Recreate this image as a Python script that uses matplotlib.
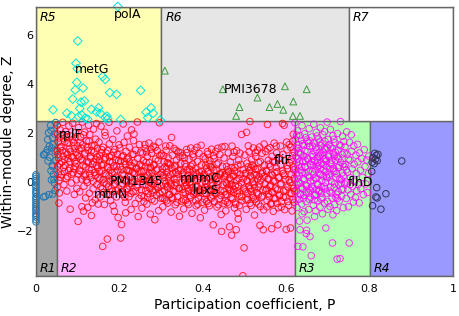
import matplotlib
matplotlib.use("Agg")
import matplotlib.pyplot as plt
from matplotlib.patches import Rectangle
import numpy as np

# ---------------- data ----------------
# R1 (blue): ultra-peripheral nodes
blue_col_z = [0.29, 0.22, 0.13, 0.05, -0.04, -0.16, -0.23, -0.34, -0.42, -0.49, -0.61, -0.68,
              -0.77, -0.86, -0.95, -1.03, -1.12, -1.18, -1.29, -1.36, -1.44, -1.55, -1.64]
blue_pts = [(0.027, 1.31), (0.018, 1.10), (0.035, 2.30), (0.036, 2.10), (0.040, 1.80), (0.041, 1.52),
            (0.038, 1.38), (0.033, 1.00), (0.040, 0.62), (0.037, 0.08), (0.043, 0.10), (0.022, -0.60),
            (0.040, -0.50), (0.018, -0.62), (0.024, 1.18), (0.020, 1.12), (0.036, 0.45), (0.039, 0.68),
            (0.045, 1.95), (0.028, 1.72), (0.047, 2.42), (0.030, 2.00), (0.042, 0.30), (0.046, 1.25),
            (0.044, -0.05), (0.032, 1.45), (0.029, 0.85), (0.048, 0.88), (0.046, -0.36), (0.031, -0.52)]

# R2 (red): peripheral nodes, by strip of P
red_a = [(0.051,2.31),(0.052,1.95),(0.053,1.62),(0.051,1.28),(0.054,0.97),(0.052,0.64),(0.053,0.32),(0.055,0.05),(0.051,-0.22),(0.056,-0.46),(0.055,-0.87),(0.058,2.12),(0.060,1.44),(0.062,0.81),(0.059,0.18),(0.064,2.43),(0.066,1.76),(0.065,1.05),(0.068,0.42),(0.067,-0.12),(0.071,2.05),(0.072,1.21),(0.070,0.66),(0.074,-0.38),(0.075,1.58),(0.077,0.94),(0.076,0.21),(0.079,2.28),(0.080,1.33),(0.082,-1.12),(0.081,0.55),(0.084,1.87),(0.085,-0.05),(0.086,1.02),(0.088,2.39),(0.089,0.37),(0.090,1.61),(0.092,-0.52),(0.093,0.82),(0.095,2.01),(0.096,1.19),(0.097,0.08),(0.099,1.47),(0.098,-0.27),(0.094,0.63)]
red_b = [(0.101,-1.62),(0.102,2.21),(0.103,1.34),(0.104,0.47),(0.105,-0.41),(0.107,1.82),(0.108,0.92),(0.109,0.11),(0.110,-1.02),(0.111,2.44),(0.112,1.51),(0.113,0.68),(0.115,-0.18),(0.116,1.13),(0.117,2.03),(0.118,0.29),(0.119,-0.66),(0.121,1.67),(0.122,0.83),(0.123,-0.03),(0.125,1.28),(0.126,2.31),(0.127,0.51),(0.128,-0.47),(0.129,1.93),(0.131,1.05),(0.132,0.17),(0.133,-1.38),(0.134,1.47),(0.136,0.72),(0.137,-0.29),(0.138,2.15),(0.139,1.21),(0.141,0.38),(0.142,-0.74),(0.143,1.74),(0.144,0.91),(0.146,-0.12),(0.147,1.36),(0.148,0.56),(0.149,-0.91),(0.145,2.38),(0.135,-0.86),(0.114,-1.20),(0.124,-1.05)]
red_c = [(0.151,1.62),(0.152,0.88),(0.153,0.12),(0.154,-0.62),(0.156,2.27),(0.157,1.19),(0.158,0.45),(0.159,-0.28),(0.160,-2.64),(0.161,1.41),(0.162,0.71),(0.163,-0.05),(0.164,-0.93),(0.166,1.88),(0.167,0.98),(0.168,0.27),(0.169,-0.51),(0.171,-2.34),(0.172,1.27),(0.173,0.56),(0.174,-0.18),(0.175,2.43),(0.176,1.55),(0.177,0.83),(0.178,0.02),(0.179,-0.77),(0.181,1.06),(0.182,0.37),(0.183,-0.39),(0.184,1.73),(0.186,0.64),(0.187,-0.11),(0.188,-1.21),(0.189,1.32),(0.191,0.91),(0.192,0.19),(0.193,-0.62),(0.194,2.08),(0.195,1.12),(0.196,0.48),(0.197,-1.46),(0.198,-0.29),(0.199,1.51),(0.185,-0.98),(0.165,2.02)]
red_d = [(0.201,1.38),(0.202,0.62),(0.203,-2.30),(0.204,-0.15),(0.205,-1.75),(0.206,1.02),(0.207,0.31),(0.208,-0.52),(0.209,2.36),(0.211,1.61),(0.212,0.83),(0.213,0.08),(0.214,-0.84),(0.216,1.24),(0.217,0.49),(0.218,-0.27),(0.219,1.87),(0.221,0.97),(0.222,0.22),(0.223,-0.61),(0.224,1.41),(0.226,0.66),(0.227,-0.06),(0.228,-1.13),(0.229,2.12),(0.231,1.12),(0.232,0.38),(0.233,-0.41),(0.234,1.68),(0.236,0.77),(0.237,0.01),(0.238,-0.89),(0.239,1.29),(0.241,0.53),(0.242,-0.22),(0.243,2.44),(0.244,0.94),(0.246,0.14),(0.247,-0.68),(0.248,1.52),(0.249,0.71),(0.245,-1.42),(0.235,1.95),(0.215,-1.27),(0.225,0.45)]
red_e = [(0.251,1.21),(0.252,0.44),(0.253,-0.33),(0.254,-1.08),(0.256,1.17),(0.257,0.86),(0.258,0.09),(0.259,-0.62),(0.261,1.52),(0.262,1.36),(0.263,0.61),(0.264,-0.14),(0.266,-0.91),(0.267,1.04),(0.268,0.27),(0.269,-0.47),(0.271,1.58),(0.272,0.78),(0.273,-0.02),(0.274,-1.32),(0.276,1.33),(0.277,1.16),(0.278,0.39),(0.279,-0.36),(0.281,1.45),(0.282,0.67),(0.283,-0.09),(0.284,-0.79),(0.286,1.41),(0.287,0.93),(0.288,0.17),(0.289,-0.55),(0.291,1.27),(0.292,0.52),(0.293,-0.24),(0.294,-1.18),(0.296,2.41),(0.297,1.07),(0.298,0.31),(0.299,-0.67),(0.295,1.62),(0.285,-1.55),(0.265,1.22),(0.275,0.58),(0.255,0.12)]
red_f = [(0.301,1.14),(0.302,0.37),(0.303,-0.41),(0.304,-1.02),(0.306,1.06),(0.307,0.82),(0.308,0.04),(0.309,-0.72),(0.311,1.46),(0.312,1.28),(0.313,0.55),(0.314,-0.18),(0.316,-0.87),(0.317,0.97),(0.318,0.21),(0.319,-0.53),(0.321,1.47),(0.322,0.69),(0.323,-0.07),(0.324,-1.24),(0.325,1.81),(0.327,1.08),(0.328,0.33),(0.329,-0.38),(0.331,1.36),(0.332,0.61),(0.333,-0.16),(0.334,-0.94),(0.336,1.28),(0.337,0.89),(0.338,0.12),(0.339,-0.61),(0.341,1.22),(0.342,0.46),(0.343,-0.28),(0.344,-1.41),(0.346,1.19),(0.347,0.75),(0.348,-0.01),(0.349,-0.79),(0.345,1.02),(0.335,0.38),(0.315,0.78),(0.326,-0.63),(0.305,0.25)]
red_g = [(0.351,1.07),(0.352,0.31),(0.353,-0.44),(0.354,-1.11),(0.356,0.97),(0.357,0.74),(0.358,-0.02),(0.359,-0.76),(0.361,1.32),(0.362,1.19),(0.363,0.47),(0.364,-0.26),(0.366,-0.93),(0.367,0.92),(0.368,0.15),(0.369,-0.57),(0.371,1.38),(0.372,0.63),(0.373,-0.12),(0.374,-1.29),(0.376,1.12),(0.377,1.01),(0.378,0.26),(0.379,-0.42),(0.381,1.29),(0.382,0.54),(0.383,-0.21),(0.384,-0.98),(0.386,1.41),(0.387,0.83),(0.388,0.07),(0.389,-0.66),(0.391,1.16),(0.392,0.39),(0.393,-0.33),(0.394,-1.47),(0.396,1.49),(0.397,0.69),(0.398,-0.06),(0.399,-0.84),(0.395,0.21),(0.385,-0.48),(0.375,0.44),(0.365,0.08),(0.355,-0.18)]
red_h = [(0.401,1.02),(0.402,0.26),(0.403,-0.49),(0.404,-1.16),(0.406,0.94),(0.407,0.68),(0.408,-0.07),(0.409,-0.81),(0.411,1.23),(0.412,1.13),(0.413,0.41),(0.414,-0.31),(0.416,-0.98),(0.417,0.86),(0.418,0.11),(0.419,-0.62),(0.421,1.33),(0.422,0.57),(0.423,-0.17),(0.425,-1.76),(0.426,1.06),(0.427,0.95),(0.428,0.21),(0.429,-0.47),(0.431,1.24),(0.432,0.48),(0.433,-0.26),(0.434,-1.03),(0.436,1.37),(0.437,0.77),(0.438,0.02),(0.439,-0.71),(0.441,1.11),(0.442,0.34),(0.443,-0.38),(0.444,-1.34),(0.446,1.42),(0.447,0.63),(0.448,-0.11),(0.449,-0.89),(0.445,-2.03),(0.435,0.16),(0.424,-0.55),(0.415,0.72),(0.405,-0.22)]
red_i = [(0.451,0.97),(0.452,0.21),(0.453,1.44),(0.454,-0.53),(0.455,-1.19),(0.457,0.63),(0.458,-0.09),(0.459,-0.84),(0.461,1.18),(0.462,0.42),(0.463,-0.31),(0.464,-1.84),(0.466,0.81),(0.467,0.07),(0.468,-0.64),(0.469,-2.18),(0.470,1.46),(0.472,1.03),(0.473,0.28),(0.474,-0.44),(0.476,-1.07),(0.477,0.58),(0.478,-0.16),(0.479,-0.92),(0.480,-1.96),(0.481,1.27),(0.482,0.36),(0.483,-0.37),(0.484,-1.28),(0.486,0.88),(0.487,0.13),(0.488,-0.59),(0.489,1.17),(0.491,0.71),(0.492,-0.04),(0.493,1.93),(0.494,-0.78),(0.496,-3.84),(0.497,0.49),(0.498,-0.26),(0.499,-2.70),(0.485,-1.52),(0.475,1.21),(0.465,-0.12),(0.456,0.32)]
red_j = [(0.501,1.09),(0.502,0.33),(0.503,-0.41),(0.504,-1.13),(0.505,2.02),(0.506,0.76),(0.507,0.01),(0.508,-0.72),(0.509,1.47),(0.511,1.22),(0.512,0.45),(0.513,2.46),(0.514,-0.28),(0.516,-0.97),(0.517,0.91),(0.518,0.16),(0.519,-0.56),(0.521,1.38),(0.522,0.61),(0.523,-0.13),(0.524,-1.36),(0.526,1.19),(0.527,1.03),(0.528,0.27),(0.529,-0.44),(0.531,1.29),(0.532,0.52),(0.533,-0.22),(0.534,-0.91),(0.536,1.42),(0.537,-1.78),(0.538,0.83),(0.539,0.06),(0.541,-0.63),(0.542,1.16),(0.543,0.39),(0.544,-0.34),(0.546,-1.15),(0.547,1.54),(0.548,0.68),(0.549,-0.08),(0.545,-1.96),(0.535,0.22),(0.525,-0.71),(0.515,0.58)]
red_k = [(0.551,1.24),(0.552,0.47),(0.553,-0.29),(0.554,-1.02),(0.555,2.34),(0.556,1.34),(0.557,0.88),(0.558,0.12),(0.559,-0.61),(0.561,1.39),(0.562,0.63),(0.563,-0.14),(0.564,-0.88),(0.565,-1.92),(0.566,1.04),(0.567,0.27),(0.568,-0.45),(0.569,-1.21),(0.571,1.58),(0.572,0.79),(0.573,0.03),(0.574,-0.69),(0.576,1.46),(0.577,1.18),(0.578,0.41),(0.579,-0.33),(0.580,-1.76),(0.581,-1.06),(0.582,0.95),(0.583,0.18),(0.584,-0.52),(0.586,1.46),(0.587,0.69),(0.588,-0.07),(0.589,-0.81),(0.591,2.38),(0.592,1.12),(0.593,0.34),(0.594,-0.38),(0.595,2.31),(0.596,-1.14),(0.597,0.86),(0.598,0.09),(0.599,-0.63),(0.600,-1.95),(0.601,1.62),(0.602,1.31),(0.603,0.54),(0.604,-0.21),(0.606,-0.96),(0.607,1.52),(0.608,0.77),(0.609,-0.02),(0.610,-1.89),(0.611,1.41),(0.612,0.29),(0.613,-0.48),(0.614,-1.19),(0.615,1.07),(0.616,1.66),(0.617,0.61),(0.618,-0.27),(0.619,-0.84),(0.617,1.94),(0.619,0.14)]
# dense core of the R2 cloud
red_core_1 = [(0.053,1.12),(0.055,1.79),(0.057,0.73),(0.058,1.38),(0.061,0.29),(0.063,1.91),(0.063,1.27),(0.066,0.58),(0.069,1.63),(0.069,0.91),(0.072,0.14),(0.073,1.84),(0.075,1.11),(0.078,0.46),(0.079,1.59),(0.081,0.82),(0.083,1.24),(0.085,0.31),(0.087,1.71),(0.089,0.98),(0.091,0.53),(0.092,1.36),(0.094,1.82),(0.096,0.74),(0.099,1.08),
              (0.102,0.31),(0.104,1.03),(0.106,1.61),(0.108,0.42),(0.109,1.37),(0.112,0.86),(0.114,1.92),(0.115,0.24),(0.118,1.18),(0.119,0.61),(0.121,0.07),(0.123,1.41),(0.125,0.79),(0.127,1.66),(0.129,0.33),(0.131,0.96),(0.133,1.27),(0.134,0.49),(0.137,0.02),(0.139,0.81),(0.141,1.49),(0.143,0.26),(0.145,0.67),(0.147,1.02),(0.149,0.18),
              (0.152,0.42),(0.153,1.05),(0.155,-0.21),(0.157,0.68),(0.158,1.31),(0.161,0.09),(0.162,-0.44),(0.164,0.91),(0.166,0.33),(0.168,1.17),(0.169,-0.09),(0.171,0.62),(0.173,-0.53),(0.175,0.24),(0.176,1.02),(0.178,0.47),(0.181,-0.28),(0.183,0.79),(0.184,0.12),(0.186,1.21),(0.188,0.38),(0.191,-0.36),(0.193,0.65),(0.195,0.03),(0.198,0.86),
              (0.201,0.12),(0.203,0.84),(0.204,-0.42),(0.206,0.49),(0.208,-0.08),(0.209,1.07),(0.211,0.27),(0.213,-0.63),(0.214,0.71),(0.216,0.04),(0.218,0.93),(0.219,-0.31),(0.221,0.46),(0.223,-0.17),(0.224,0.81),(0.226,0.19),(0.228,-0.48),(0.231,0.63),(0.233,-0.02),(0.234,1.12),(0.236,0.34),(0.238,-0.39),(0.241,0.57),(0.243,-0.11),(0.247,0.42)]
red_core_2 = [(0.251,0.18),(0.253,-0.57),(0.254,0.66),(0.256,-0.12),(0.258,0.43),(0.259,-0.81),(0.261,0.21),(0.263,-0.36),(0.264,0.79),(0.266,0.04),(0.268,-0.64),(0.271,0.36),(0.273,-0.27),(0.274,0.58),(0.276,-0.06),(0.278,-0.72),(0.279,0.23),(0.281,-0.43),(0.283,0.71),(0.284,0.09),(0.286,-0.33),(0.289,0.48),(0.291,-0.18),(0.293,0.86),(0.297,-0.49),
              (0.301,-0.16),(0.303,0.52),(0.304,-0.67),(0.306,0.19),(0.308,-0.34),(0.309,0.61),(0.311,-0.08),(0.313,-0.78),(0.314,0.38),(0.316,-0.23),(0.318,0.74),(0.319,0.03),(0.321,-0.52),(0.323,0.29),(0.324,-0.13),(0.326,0.56),(0.328,-0.69),(0.331,0.12),(0.333,-0.41),(0.334,0.67),(0.336,-0.04),(0.338,-0.84),(0.341,0.31),(0.343,-0.27),(0.347,0.46),
              (0.351,-0.31),(0.353,0.38),(0.354,-0.74),(0.356,0.07),(0.358,-0.45),(0.359,0.62),(0.361,-0.14),(0.363,-0.86),(0.364,0.27),(0.366,-0.38),(0.368,0.51),(0.369,-0.02),(0.371,-0.63),(0.373,0.18),(0.374,-0.24),(0.376,0.71),(0.378,-0.51),(0.381,0.04),(0.383,-0.77),(0.384,0.36),(0.386,-0.17),(0.388,-0.92),(0.391,0.23),(0.393,-0.44),(0.397,0.42),
              (0.401,-0.36),(0.403,0.31),(0.404,-0.71),(0.406,0.02),(0.408,-0.49),(0.409,0.56),(0.411,-0.21),(0.413,-0.89),(0.414,0.19),(0.416,-0.34),(0.418,0.63),(0.419,-0.06),(0.421,-0.67),(0.423,0.24),(0.424,-0.29),(0.426,0.47),(0.428,-0.81),(0.431,0.08),(0.433,-0.46),(0.434,0.72),(0.436,-0.12),(0.438,-0.94),(0.441,0.29),(0.443,-0.56),(0.447,0.38)]
red_core_3 = [(0.451,-0.41),(0.453,0.27),(0.454,-0.79),(0.456,-0.04),(0.458,-0.52),(0.459,0.49),(0.461,-0.23),(0.463,-0.91),(0.464,0.16),(0.466,-0.37),(0.468,0.58),(0.469,-0.11),(0.471,-0.71),(0.473,0.22),(0.474,-0.31),(0.476,0.44),(0.478,-0.86),(0.481,0.04),(0.483,-0.49),(0.484,0.68),(0.486,-0.18),(0.488,-0.97),(0.491,0.31),(0.493,-0.61),(0.497,0.12),
              (0.501,-0.33),(0.503,0.36),(0.504,-0.74),(0.506,0.06),(0.508,-0.47),(0.509,0.61),(0.511,-0.17),(0.513,-0.88),(0.514,0.24),(0.516,-0.39),(0.518,0.69),(0.519,-0.02),(0.521,-0.66),(0.523,0.29),(0.524,-0.24),(0.526,0.52),(0.528,-0.83),(0.531,0.11),(0.533,-0.52),(0.534,0.78),(0.536,-0.09),(0.538,-1.01),(0.541,0.34),(0.543,-0.58),(0.547,0.21),
              (0.551,-0.36),(0.553,0.42),(0.554,-0.77),(0.556,0.11),(0.558,-0.49),(0.559,0.72),(0.561,-0.19),(0.563,-0.92),(0.564,0.31),(0.566,-0.41),(0.568,0.83),(0.569,0.02),(0.571,-0.68),(0.573,0.37),(0.574,-0.27),(0.576,0.59),(0.578,-0.88),(0.581,0.16),(0.583,-0.56),(0.584,0.97),(0.586,-0.12),(0.588,-1.03),(0.591,0.44),(0.593,-0.63),(0.596,0.27),(0.599,-0.34),(0.602,0.66),(0.604,-0.81),(0.607,0.08),(0.609,-0.46),(0.612,0.91),(0.614,-0.16),(0.616,-0.73),(0.618,0.49),(0.619,1.21),(0.620,-0.38)]

# R3 (magenta): non-hub connectors
mag_a = [(0.621,2.41),(0.622,1.73),(0.623,1.02),(0.624,0.31),(0.625,-0.38),(0.626,-1.05),(0.627,2.08),(0.628,1.37),(0.629,0.66),(0.630,-0.04),(0.631,-0.72),(0.632,-1.61),(0.633,1.89),(0.634,1.18),(0.635,0.47),(0.636,-0.21),(0.637,-0.91),(0.638,2.29),(0.639,1.55),(0.640,0.84),(0.641,0.13),(0.642,-0.55),(0.643,-1.22),(0.644,1.96),(0.645,1.27),(0.646,0.58),(0.647,-0.13),(0.648,-0.81),(0.649,-1.98),(0.650,1.66),(0.651,0.95),(0.652,0.24),(0.653,-0.46),(0.654,-1.13),(0.655,2.17),(0.656,1.44),(0.657,0.73),(0.658,0.02),(0.659,-0.63),(0.660,-3.02),(0.628,-2.64),(0.640,-2.66),(0.633,-1.96),(0.648,-2.12),(0.657,-2.24),(0.625,0.78),(0.635,-0.53),(0.645,0.36),(0.655,-0.29),(0.630,1.52),(0.650,-1.57),(0.638,-1.31)]
mag_b = [(0.661,1.83),(0.662,1.12),(0.663,0.41),(0.664,-0.27),(0.665,-0.96),(0.666,2.35),(0.667,1.58),(0.668,0.87),(0.669,0.16),(0.670,-0.52),(0.671,-1.19),(0.672,2.02),(0.673,1.31),(0.674,0.62),(0.675,-0.09),(0.676,-0.77),(0.677,1.74),(0.678,1.04),(0.679,0.33),(0.680,-0.36),(0.681,-1.04),(0.682,2.21),(0.683,1.47),(0.684,0.76),(0.685,0.05),(0.686,-0.64),(0.687,-1.31),(0.688,1.92),(0.689,1.21),(0.690,0.52),(0.691,-0.18),(0.692,-0.87),(0.693,1.65),(0.694,0.94),(0.695,-1.89),(0.696,0.23),(0.697,-0.47),(0.698,2.44),(0.699,1.38),(0.700,-1.12),(0.665,0.68),(0.675,0.98),(0.685,-0.21),(0.695,0.41),(0.668,-1.42),(0.682,1.09),(0.692,2.05),(0.672,-0.31)]
mag_c = [(0.701,1.73),(0.702,1.02),(0.703,0.31),(0.704,-0.38),(0.705,-1.01),(0.706,2.14),(0.707,1.43),(0.708,0.72),(0.709,0.01),(0.710,-0.67),(0.711,-2.50),(0.712,1.88),(0.713,1.17),(0.714,0.46),(0.715,-0.24),(0.716,-0.93),(0.717,1.59),(0.718,0.88),(0.719,0.17),(0.720,-0.51),(0.721,-1.18),(0.722,-3.16),(0.723,1.97),(0.724,1.29),(0.725,0.58),(0.726,-0.12),(0.727,-0.79),(0.728,1.51),(0.729,-3.14),(0.730,2.46),(0.731,0.79),(0.732,0.08),(0.733,-0.59),(0.734,1.12),(0.735,0.37),(0.736,-0.31),(0.737,-1.06),(0.738,1.64),(0.739,0.61),(0.740,-0.09),(0.705,0.52),(0.715,1.05),(0.725,-0.41),(0.735,1.86),(0.712,-1.35)]
mag_d = [(0.741,1.42),(0.742,0.71),(0.743,-0.02),(0.744,-0.68),(0.745,2.04),(0.746,1.13),(0.747,0.39),(0.748,-0.33),(0.749,-1.02),(0.751,-2.50),(0.752,1.61),(0.753,0.88),(0.754,0.16),(0.755,-0.52),(0.756,1.92),(0.757,1.24),(0.758,0.53),(0.759,-0.19),(0.761,-0.83),(0.762,1.47),(0.763,0.72),(0.764,0.02),(0.766,-0.64),(0.767,1.09),(0.768,0.34),(0.769,-0.37),(0.771,1.53),(0.772,0.81),(0.773,-0.11),(0.775,-0.86),(0.776,1.18),(0.778,0.47),(0.779,-0.28),(0.781,0.95),(0.783,0.18),(0.785,-0.53),(0.787,1.31),(0.789,0.62),(0.791,-0.09),(0.793,0.89),(0.795,-0.44),(0.797,0.33),(0.798,1.05)]
mag_core = [(0.622,0.52),(0.624,1.38),(0.626,-0.12),(0.628,0.94),(0.631,0.27),(0.633,-0.49),(0.635,1.12),(0.637,0.61),(0.639,-0.28),(0.642,1.49),(0.644,0.08),(0.646,0.86),(0.648,-0.42),(0.651,1.24),(0.653,0.41),(0.655,-0.71),(0.657,1.67),(0.659,0.69),(0.662,-0.19),(0.664,1.03),(0.666,0.31),(0.668,-0.56),(0.671,1.41),(0.673,0.14),(0.675,0.79),(0.677,-0.38),(0.679,1.18),(0.681,0.52),(0.684,-0.71),(0.686,1.55),(0.688,0.24),(0.691,0.91),(0.693,-0.29),(0.695,1.32),(0.697,0.62),(0.699,-0.81),(0.702,1.08),(0.704,0.19),(0.706,0.77),(0.708,-0.46),(0.711,1.36),(0.713,0.54),(0.716,-0.09),(0.718,1.21),(0.721,0.33),(0.723,-0.68),(0.726,0.96),(0.728,0.12),(0.731,1.47),(0.733,-0.31),(0.736,0.71),(0.739,1.19),(0.744,0.48),(0.749,0.93),(0.753,-0.12)]
mag_core_2 = [(0.623,-0.71),(0.625,1.91),(0.627,0.13),(0.629,1.21),(0.632,0.82),(0.634,-0.06),(0.636,1.69),(0.638,0.37),(0.641,-0.67),(0.643,1.04),(0.645,0.61),(0.647,1.81),(0.649,-0.17),(0.652,0.92),(0.654,1.58),(0.656,0.18),(0.658,-0.36),(0.661,0.83),(0.663,1.46),(0.665,0.05),(0.667,-0.74),(0.669,1.22),(0.671,0.48),(0.674,1.87),(0.676,-0.12),(0.678,0.66),(0.681,1.62),(0.683,0.29),(0.685,-0.46),(0.687,1.06),(0.689,0.71),(0.692,1.36),(0.694,-0.03),(0.696,0.84),(0.698,0.16),(0.703,1.52),(0.707,-0.21),(0.709,0.88),(0.714,1.73),(0.717,0.41),(0.719,-0.64),(0.722,1.03),(0.727,0.66),(0.732,-0.06),(0.737,0.24)]

# R4 (dark): kinless nodes
dark_pts = [(0.812,1.16),(0.816,1.08),(0.820,1.12),(0.808,0.98),(0.814,0.92),(0.818,0.86),(0.806,0.80),(0.811,0.74),
            (0.877,0.85),(0.805,0.42),(0.817,-0.24),(0.839,-0.49),(0.815,-0.62),(0.818,-0.66),(0.807,-0.98),(0.827,-1.12)]

# R5 (cyan diamonds): provincial hubs
cyan_pts = [(0.196,7.16),(0.100,5.75),(0.096,4.84),(0.099,4.62),(0.160,4.30),(0.166,4.18),(0.098,4.06),(0.094,3.75),
            (0.113,3.83),(0.177,3.64),(0.193,3.57),(0.251,3.73),(0.088,3.38),(0.108,3.25),(0.116,3.30),(0.105,3.00),
            (0.041,2.94),(0.133,2.96),(0.145,2.86),(0.150,3.02),(0.154,2.80),(0.170,2.68),(0.074,2.80),(0.102,2.66),
            (0.110,2.72),(0.118,2.60),(0.124,2.56),(0.276,3.02),(0.264,2.84),(0.281,2.80),(0.298,2.52),(0.203,2.54),
            (0.166,2.62),(0.172,2.57),(0.085,2.70),(0.268,2.62)]

# R6 (green triangles): connector hubs
green_pts = [(0.309,4.54),(0.448,3.78),(0.531,3.44),(0.488,3.05),(0.480,2.69),(0.560,3.05),(0.579,3.18),
             (0.593,2.94),(0.597,3.90),(0.617,3.28),(0.649,3.78),(0.616,2.69),(0.633,2.69)]

gene_names = ["polA", "metG", "PMI3678", "rplF", "PMI1345", "mtnN", "mnmC", "luxS", "fliF", "flhD"]
gene_pos = [(0.187, 6.85), (0.094, 4.57), (0.451, 3.76), (0.055, 1.92), (0.177, 0.01),
            (0.140, -0.53), (0.345, 0.12), (0.377, -0.37), (0.571, 0.87), (0.748, -0.03)]

# role regions
region_names = ["R1", "R2", "R3", "R4", "R5", "R6", "R7"]
region_p = [(0.0, 0.05), (0.05, 0.62), (0.62, 0.80), (0.80, 1.0), (0.0, 0.30), (0.30, 0.75), (0.75, 1.0)]
region_hub = [False, False, False, False, True, True, True]
region_colors = ["#a6a6a6", "#ffb3ff", "#b3ffb3", "#9999ff", "#ffffb3", "#e6e6e6", "#ffffff"]

Z_CUT = 2.5
YMIN, YMAX = -3.85, 7.15

# ---------------- plot ----------------
fig = plt.figure(figsize=(4.59, 3.16), dpi=100)
ax = fig.add_axes([0.0784, 0.1266, 0.9086, 0.852])
ax.set_xlim(0, 1)
ax.set_ylim(YMIN, YMAX)

for name, (p0, p1), hub, col in zip(region_names, region_p, region_hub, region_colors):
    z0, z1 = (Z_CUT, YMAX) if hub else (YMIN, Z_CUT)
    ax.add_patch(Rectangle((p0, z0), p1 - p0, z1 - z0, facecolor=col,
                           edgecolor="#666666", lw=1.0, zorder=0))
    if hub:
        ax.annotate(name, (p0, z1), xytext=(3, -3), textcoords="offset points",
                    ha="left", va="top", fontsize=9, style="italic", zorder=5)
    else:
        ax.annotate(name, (p0, z0), xytext=(3, 1), textcoords="offset points",
                    ha="left", va="bottom", fontsize=9, style="italic", zorder=5)

def xy(pts):
    a = np.array(pts, dtype=float)
    return a[:, 0], a[:, 1]

ms = 22
lw = 0.7
bx = [0.0] * len(blue_col_z) + [p for p, _ in blue_pts]
by = list(blue_col_z) + [z for _, z in blue_pts]
ax.scatter(bx, by, s=ms, facecolors="none", edgecolors="#1f77b4", linewidths=lw, zorder=2, clip_on=False)

red_all = (red_a + red_b + red_c + red_d + red_e + red_f + red_g + red_h + red_i + red_j + red_k
           + red_core_1 + red_core_2 + red_core_3)
x, y = xy(red_all)
ax.scatter(x, y, s=ms, facecolors="none", edgecolors="#ff0000", linewidths=lw, alpha=0.8, zorder=2)

mag_all = mag_a + mag_b + mag_c + mag_d + mag_core + mag_core_2
x, y = xy(mag_all)
ax.scatter(x, y, s=ms, facecolors="none", edgecolors="#ff00ff", linewidths=lw, alpha=0.8, zorder=2)

x, y = xy(dark_pts)
ax.scatter(x, y, s=ms, facecolors="none", edgecolors="#333355", linewidths=lw, zorder=2)

x, y = xy(cyan_pts)
ax.scatter(x, y, s=20, marker="D", facecolors="none", edgecolors="#00e5e5", linewidths=lw, zorder=2, clip_on=False)

x, y = xy(green_pts)
ax.scatter(x, y, s=24, marker="^", facecolors="none", edgecolors="#3a9a3a", linewidths=lw, zorder=2)

for name, (p, z) in zip(gene_names, gene_pos):
    ax.text(p, z, name, fontsize=9, ha="left", va="center", zorder=6)

ax.set_xticks([0, 0.2, 0.4, 0.6, 0.8, 1])
ax.set_xticklabels(["0", "0.2", "0.4", "0.6", "0.8", "1"])
ax.set_yticks([-2, 0, 2, 4, 6])
ax.tick_params(axis="x", length=0, labelsize=8, pad=6)
ax.tick_params(axis="y", length=0, labelsize=8, pad=2)
ax.set_xlabel("Participation coefficient, P", fontsize=10, labelpad=3)
ax.set_ylabel("Within-module degree, Z", fontsize=10, labelpad=1)
for s in ax.spines.values():
    s.set_color("#666666")
    s.set_linewidth(1.0)

fig.savefig("out.png", dpi=100)
